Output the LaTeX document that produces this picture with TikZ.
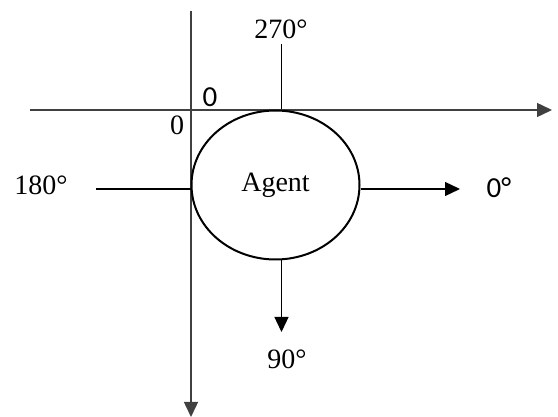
\documentclass[tikz,border=0pt]{standalone}
\usepackage{fontspec}
\setmainfont{Liberation Serif}
\newfontfamily\sansf{Carlito}
\usetikzlibrary{shapes.geometric,arrows.meta}
\begin{document}
\begin{tikzpicture}[x=1pt,y=-1pt,
  axis/.style={line width=1.5pt,draw=black!75},
  conn/.style={line width=1.3pt,draw=black},
  tip/.style={-{Triangle[length=15pt,width=14pt]}},
  lbl/.style={font=\fontsize{28}{30}\selectfont,inner sep=0pt},
  slbl/.style={font=\sansf\fontsize{29}{31}\selectfont,inner sep=0pt}]
\useasboundingbox (0,0) rectangle (558,417);
% axes
\coordinate (ytop) at (191,11);
\coordinate (ybot) at (191,417);
\coordinate (xl) at (30,110);
\coordinate (xr) at (552,110);
\draw[axis,tip] (ytop) -- (ybot);
\draw[axis,tip] (xl) -- (xr);
% agent
\node[ellipse,draw,line width=2pt,minimum width=168pt,minimum height=149pt,inner sep=0pt,
  font=\fontsize{28}{30}\selectfont] (agent) at (275.5,185) {Agent};
% labels
\node[lbl] (l270) at (281,29) {270°};
\node[lbl] (l180) at (41,185) {180°};
\node[lbl] (l90) at (287,359) {90°};
\node[slbl] (l0) at (499,188) {0°};
\node[slbl] (o1) at (210,97) {0};
\node[lbl] (o2) at (177,125) {0};
% connectors
\coordinate (c270) at (281.5,44);
\coordinate (c180) at (96,189);
\coordinate (c0) at (460,189);
\coordinate (c90) at (281.5,332);
\draw[conn] (c270 |- agent.north) -- (c270);
\draw[conn] (agent.west |- c180) -- (c180);
\draw[conn,tip] (agent.east |- c0) -- (c0);
\draw[conn,tip] (c90 |- agent.south) -- (c90);
\end{tikzpicture}
\end{document}
